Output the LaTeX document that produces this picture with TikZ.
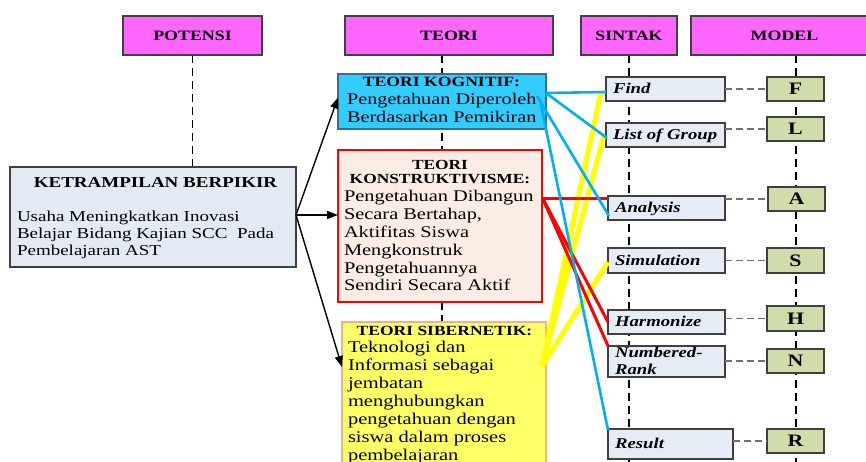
\documentclass[tikz,border=0pt]{standalone}
\usepackage{fontspec}
\setmainfont{Liberation Serif}[FakeStretch=1.25]
\usetikzlibrary{arrows.meta,backgrounds,calc}

% colours
\definecolor{hdrfill}{HTML}{FF66FF}
\definecolor{boxline}{HTML}{404040}
\definecolor{ketfill}{HTML}{E4EAF4}
\definecolor{kogfill}{HTML}{33CCFF}
\definecolor{kogline}{HTML}{31708F}
\definecolor{konfill}{HTML}{FBEDE4}
\definecolor{sibfill}{HTML}{FFFF66}
\definecolor{sibline}{HTML}{F4B183}
\definecolor{sinfill}{HTML}{E6ECF6}
\definecolor{modfill}{HTML}{D0DCAA}
\definecolor{lnblue}{HTML}{00B0F0}
\definecolor{lnred}{HTML}{FF0000}
\definecolor{lnyellow}{HTML}{FFFF00}
\definecolor{lngray}{HTML}{707070}

% type sizes
\newcommand\hdrfont{\bfseries\fontsize{14.3}{16}\selectfont}
\newcommand\ketttl{\bfseries\fontsize{15.2}{17}\selectfont}
\newcommand\ketbody{\fontsize{15.2}{16.5}\selectfont}
\newcommand\kogttl{\bfseries\fontsize{14.1}{16}\selectfont}
\newcommand\kogbody{\fontsize{16.2}{18}\selectfont}
\newcommand\konttl{\bfseries\fontsize{13.9}{14.5}\selectfont}
\newcommand\konbody{\fontsize{16.3}{17.8}\selectfont}
\newcommand\sibttl{\bfseries\fontsize{14}{16}\selectfont}
\newcommand\sibbody{\fontsize{16.4}{18}\selectfont}
\newcommand\sinfont{\bfseries\itshape\fontsize{15}{17}\selectfont}
\newcommand\modfont{\bfseries\fontsize{17.5}{19}\selectfont}

\tikzset{
  boxbase/.style={anchor=north west, inner sep=0pt, outer sep=0pt},
  hdr/.style={boxbase, draw=boxline, fill=hdrfill, line width=1.3pt, font=\hdrfont},
  ketbox/.style={boxbase, draw=boxline, fill=ketfill, line width=1.2pt},
  kogbox/.style={boxbase, draw=kogline, fill=kogfill, line width=1.2pt},
  konbox/.style={boxbase, draw=lnred, fill=konfill, line width=2.6pt},
  sibbox/.style={boxbase, draw=sibline, fill=sibfill, line width=1.5pt},
  sinbox/.style={boxbase, draw=boxline, fill=sinfill, line width=1.2pt, minimum width=117pt, minimum height=24pt},
  modbox/.style={boxbase, draw=boxline, fill=modfill, line width=1.2pt, minimum width=57pt, minimum height=24pt, font=\modfont},
  txt/.style={inner sep=0pt, outer sep=0pt},
  sintxt/.style={txt, anchor=base west, font=\sinfont},
  coldash/.style={black, line width=1.5pt, dash pattern=on 8pt off 5pt},
  gdash/.style={lngray, line width=1.3pt, dash pattern=on 7pt off 4pt},
  arr/.style={black, line width=1.4pt, -{Triangle[length=11pt,width=8pt]}},
  bline/.style={lnblue, line width=2.6pt},
  rline/.style={lnred, line width=3pt},
  yline/.style={lnyellow, line width=5pt},
}

\begin{document}
\begin{tikzpicture}[x=1pt,y=-1pt]
\useasboundingbox (0,0) rectangle (866,462);
\coordinate (bot) at (0,462);

% column headers
\node[hdr, minimum width=139pt, minimum height=39pt] (potensi) at (123,16) {POTENSI};
\node[hdr, minimum width=208pt, minimum height=39pt] (teori) at (345,16) {TEORI};
\node[hdr, minimum width=96pt, minimum height=39pt] (sintak) at (581,16) {SINTAK};
\node[hdr, minimum width=187pt, minimum height=39pt] (model) at (691,16) {MODEL};

% potential
\node[ketbox, minimum width=286pt, minimum height=100pt] (ket) at (10,167) {};
\node[txt, anchor=base, font=\ketttl] (kett) at (155.5,188) {KETRAMPILAN BERPIKIR};
\node[txt, anchor=base west, font=\ketbody] (ketb) at (17,222)
  {\begin{tabular}[t]{@{}l@{}}Usaha Meningkatkan Inovasi\\Belajar Bidang Kajian SCC~ Pada\\Pembelajaran AST\end{tabular}};

% theories
\node[kogbox, minimum width=208pt, minimum height=55pt] (kog) at (338,74) {};
\node[txt, anchor=base, font=\kogttl] (kogt) at (441.5,87) {TEORI KOGNITIF:};
\node[txt, anchor=base west, font=\kogbody] (kogb) at (347,105)
  {\begin{tabular}[t]{@{}l@{}}Pengetahuan Diperoleh\\Berdasarkan Pemikiran\end{tabular}};

\node[konbox, minimum width=204pt, minimum height=152pt] (kon) at (338,150) {};
\node[txt, anchor=base, font=\konttl] (kont) at (440,169.5)
  {\begin{tabular}[t]{@{}c@{}}TEORI\\KONSTRUKTIVISME:\end{tabular}};
\node[txt, anchor=base west, font=\konbody] (konb) at (344,202)
  {\begin{tabular}[t]{@{}l@{}}Pengetahuan Dibangun\\Secara Bertahap,\\Aktifitas Siswa\\Mengkonstruk\\Pengetahuannya\\Sendiri Secara Aktif\end{tabular}};

\node[sibbox, minimum width=204pt, minimum height=160pt] (sib) at (342,322) {};
\node[txt, anchor=base, font=\sibttl] (sibt) at (444.5,335) {TEORI SIBERNETIK:};
\node[txt, anchor=base west, font=\sibbody] (sibb) at (348,352)
  {\begin{tabular}[t]{@{}l@{}}Teknologi dan\\Informasi sebagai\\jembatan\\menghubungkan\\pengetahuan dengan\\siswa dalam proses\\pembelajaran\end{tabular}};

% syntax steps
\node[sinbox, minimum width=119pt] (find) at (606,77) {};
\node[sintxt] (findt) at (613,94) {Find};
\node[sinbox, minimum width=119pt] (list) at (606,123) {};
\node[sintxt] (listt) at (613,140) {List of Group};
\node[sinbox] (ana) at (608,196) {};
\node[sintxt] (anat) at (615,213) {Analysis};
\node[sinbox, minimum height=25pt] (sim) at (608,248) {};
\node[sintxt] (simt) at (615,265) {Simulation};
\node[sinbox] (har) at (608,310) {};
\node[sintxt] (hart) at (615,326) {Harmonize};
\node[sinbox, minimum height=31pt] (num) at (608,346) {};
\node[sintxt] (numt) at (615,357)
  {\begin{tabular}[t]{@{}l@{}}Numbered-\\Rank\end{tabular}};
\node[sinbox, minimum width=125pt, minimum height=30pt] (res) at (608,429) {};
\node[sintxt] (rest) at (615,448) {Result};

% model letters
\node[modbox] (mF) at (767,77) {F};
\node[modbox] (mL) at (767,117) {L};
\node[modbox] (mA) at (768,187) {A};
\node[modbox, minimum height=25pt] (mS) at (767,248) {S};
\node[modbox, minimum height=25pt] (mH) at (767,306) {H};
\node[modbox] (mN) at (767,349) {N};
\node[modbox] (mR) at (767,429) {R};

% column guide lines, behind the boxes
\begin{pgfonlayer}{background}
  \fill[white] (0,0) rectangle (866,462);
  \draw[coldash] (potensi.south) -- (potensi.south |- ket.north);
  \draw[coldash] ($(teori.south)+(-7,0)$) -- ($(teori.south |- bot)+(-7,0)$);
  \draw[coldash] (sintak.south) -- (sintak.south |- bot);
  \draw[coldash] ($(model.south)+(11.5,0)$) -- ($(model.south |- bot)+(11.5,0)$);
\end{pgfonlayer}

% step to model letter
\foreach \s/\m in {find/mF, list/mL, ana/mA, sim/mS, har/mH, num/mN, res/mR}
  \draw[gdash] (\m.west -| \s.east) -- (\m.west);

% potential to theories
\coordinate (ketout) at ([yshift=2pt]ket.east);
\draw[arr] (ketout) -- ([yshift=4pt]kog.west);
\draw[arr] (ketout) -- (kon.west |- ketout);
\draw[arr] (ketout) -- ([yshift=-45pt]sib.north west);

% theory to syntax links
\coordinate (kogA) at (546,93);
\coordinate (kogB) at (537,96);
\coordinate (kogC) at (540,100);
\coordinate (konA) at (543,199);
\coordinate (sibA) at (542,366);

\draw[yline] (sibA) -- ($(find.west)+(-5,3)$);
\draw[yline] (sibA) -- ($(list.west)+(-2,0)$);
\draw[yline] (sibA) -- ($(sim.west)+(0,1.5)$);

\draw[rline] (konA) -- ($(ana.west)+(0,-9)$);
\draw[rline] (konA) -- (har.west);
\draw[rline] (konA) -- (num.north west);

\draw[bline] (kogA) -- ($(find.west)+(0,3)$);
\draw[bline] (kogA) -- ($(list.west)+(1,3)$);
\draw[bline] (kogB) -- ($(ana.west)+(1,8)$);
\draw[bline] (kogC) -- ($(res.north west)+(0,1)$);
\end{tikzpicture}
\end{document}
